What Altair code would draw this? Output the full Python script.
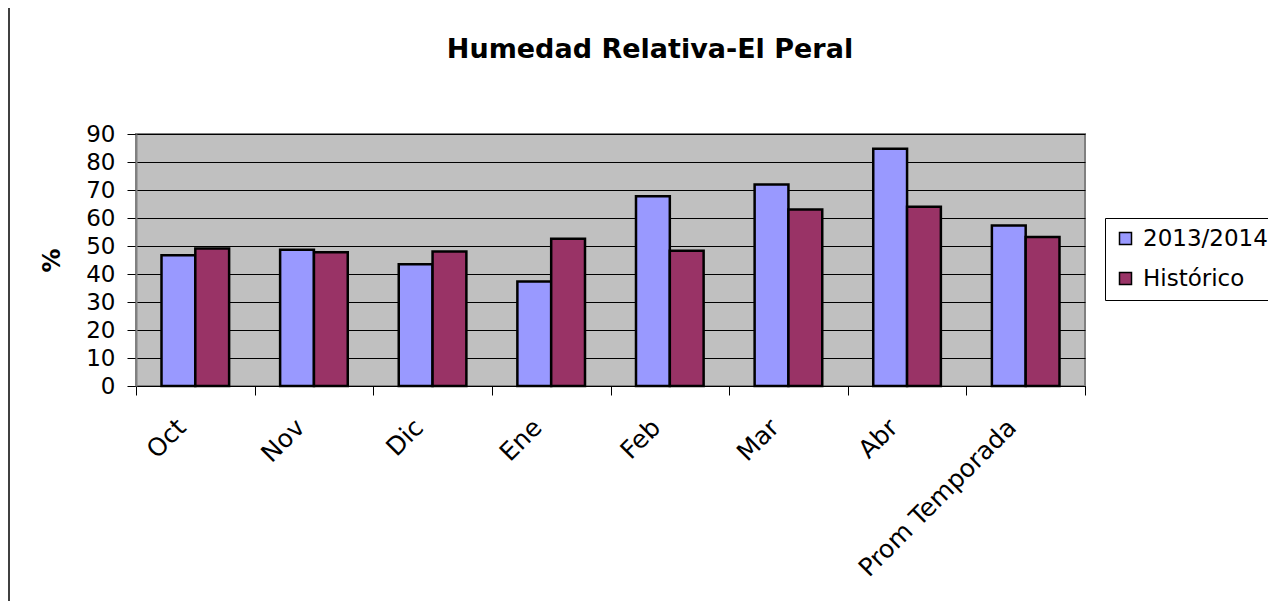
import altair as alt
import pandas as pd

categories = ["Oct", "Nov", "Dic", "Ene", "Feb", "Mar", "Abr", "Prom Temporada"]
series_names = ["2013/2014", "Histórico"]
values_2013 = [46.7, 48.7, 43.5, 37.3, 67.8, 72.0, 84.7, 57.3]
values_hist = [49.1, 47.8, 48.0, 52.6, 48.3, 63.0, 64.0, 53.2]
colors = ["#9999FF", "#993366"]
chart_title = "Humedad Relativa-El Peral"

rows = []
for c, a, b in zip(categories, values_2013, values_hist):
    rows.append({"mes": c, "serie": series_names[0], "valor": a})
    rows.append({"mes": c, "serie": series_names[1], "valor": b})
df = pd.DataFrame(rows)

FONT = "DejaVu Sans"

bars = alt.Chart(df).mark_bar(stroke="black", strokeWidth=2.5).encode(
    x=alt.X(
        "mes:N",
        sort=categories,
        title=None,
        scale=alt.Scale(paddingInner=0, paddingOuter=0),
        axis=alt.Axis(
            labelAngle=315,
            labelAlign="right",
            labelBaseline="middle",
            labelFont=FONT,
            labelFontSize=25,
            labelColor="black",
            labelPadding=28,
            labelOffset=-14,
            labelLimit=0,
            tickBand="extent",
            tickColor="black",
            tickSize=9,
            domainColor="black",
            domainWidth=1,
            grid=False,
        ),
    ),
    xOffset=alt.XOffset(
        "serie:N",
        sort=series_names,
        scale=alt.Scale(paddingInner=0, paddingOuter=0.754),
    ),
    y=alt.Y(
        "valor:Q",
        scale=alt.Scale(domain=[0, 90], nice=False),
        axis=alt.Axis(
            values=list(range(0, 91, 10)),
            title="%",
            titleFont=FONT,
            titleFontSize=24,
            titleFontWeight="bold",
            titleColor="black",
            titleX=-84,
            titleY=126,
            titleAngle=270,
            titleAlign="center",
            titleBaseline="middle",
            labelFont=FONT,
            labelFontSize=23,
            labelColor="black",
            labelPadding=12,
            tickColor="black",
            tickSize=9,
            domainColor="#808080",
            domainWidth=2,
            grid=True,
            gridColor="black",
            gridWidth=1,
        ),
    ),
    color=alt.Color(
        "serie:N",
        sort=series_names,
        scale=alt.Scale(domain=series_names, range=colors),
        legend=alt.Legend(
            title=None,
            orient="none",
            legendX=969,
            legendY=84,
            symbolType="square",
            symbolSize=144,
            symbolStrokeColor="black",
            symbolStrokeWidth=1.5,
            symbolOpacity=1,
            labelFont=FONT,
            labelFontSize=23,
            labelColor="black",
            labelOffset=6,
            rowPadding=16,
            padding=9,
            strokeColor="black",
            fillColor="white",
        ),
    ),
)

title_text = alt.Chart(pd.DataFrame({"t": [chart_title]})).mark_text(
    font=FONT, fontSize=27, fontWeight="bold", color="black",
    align="center", baseline="alphabetic",
).encode(text="t:N", x=alt.value(514), y=alt.value(-76))

left_border = alt.Chart(pd.DataFrame({"k": [0]})).mark_rule(
    color="black", strokeWidth=1.5
).encode(x=alt.value(-127), y=alt.value(-126), y2=alt.value(467))

chart = alt.layer(bars, title_text, left_border).properties(
    width=949,
    height=252,
    autosize=alt.AutoSizeParams(type="none"),
    padding={"left": 128, "top": 126, "right": 183, "bottom": 215},
).configure(
    background="white",
    view=alt.ViewConfig(fill="#C0C0C0", stroke="#808080", strokeWidth=2),
)

chart.save("out.html", embed_options={"renderer": "svg", "actions": False})
